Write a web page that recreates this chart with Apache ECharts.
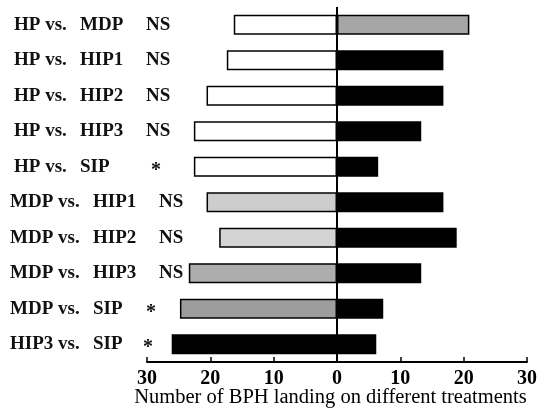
<!DOCTYPE html>
<html lang="en">
<head>
    <meta charset="UTF-8">
    <title>BPH landing</title>
    <script src="https://cdn.jsdelivr.net/npm/echarts@6/dist/echarts.min.js"></script>
    <style>
        html, body { margin: 0; padding: 0; background: #fff; }
        #main { width: 539px; height: 412px; }
    </style>
</head>
<body>
    <div id="main"></div>
<script>
// 比较组 (从上到下)
var pairA = ['HP vs.', 'HP vs.', 'HP vs.', 'HP vs.', 'HP vs.', 'MDP vs.', 'MDP vs.', 'MDP vs.', 'MDP vs.', 'HIP3 vs.'];
var pairB = ['MDP', 'HIP1', 'HIP2', 'HIP3', 'SIP', 'HIP1', 'HIP2', 'HIP3', 'SIP', 'SIP'];
var signif = ['NS', 'NS', 'NS', 'NS', '*', 'NS', 'NS', 'NS', '*', '*'];
// 左侧 (第一处理) 和右侧 (第二处理) 的着陆数
var leftValues = [16.3, 17.4, 20.6, 22.6, 22.6, 20.6, 18.6, 23.4, 24.8, 26.1];
var rightValues = [20.9, 16.8, 16.8, 13.3, 6.5, 16.8, 18.9, 13.3, 7.3, 6.2];
var xTicks = [-30, -20, -10, 0, 10, 20, 30];

var categories = pairA.map(function (a, i) { return a + ' ' + pairB[i]; });

// 样式: 填充颜色和标签列宽
var leftColors = ['#ffffff', '#ffffff', '#ffffff', '#ffffff', '#ffffff', '#cdcdcd', '#d4d4d4', '#adadad', '#9d9d9d', '#000000'];
var rightColors = ['#a6a6a6', '#000', '#000', '#000', '#000', '#000', '#000', '#000', '#000', '#000'];
var indentW = [4, 4, 4, 4, 4, 0, 0, 0, 0, 0];
var colAW = [66, 66, 66, 66, 66, 83, 83, 83, 83, 83];
var colBW = [66, 66, 66, 66, 71, 66, 66, 66, 53, 50];

var serif = '"Liberation Serif", "DejaVu Serif", serif';
var myChart = echarts.init(document.getElementById('main'));

var rich = {
    n: { fontFamily: serif, fontSize: 19, fontWeight: 'bold', color: '#111' },
    s: { fontFamily: serif, fontSize: 20, fontWeight: 'bold', color: '#111', padding: [8, 0, 0, 0] }
};
for (var i = 0; i < categories.length; i++) {
    rich['p' + i] = { fontFamily: serif, fontSize: 19, width: indentW[i] };
    rich['a' + i] = { fontFamily: serif, fontSize: 19, fontWeight: 'bold', color: '#111', width: colAW[i] };
    rich['b' + i] = { fontFamily: serif, fontSize: 19, fontWeight: 'bold', color: '#111', width: colBW[i] };
}

var option = {
    animation: false,
    grid: { left: 147, right: 12, top: 7, bottom: 50, outerBoundsMode: 'none' },
    xAxis: {
        type: 'value',
        min: xTicks[0],
        max: xTicks[xTicks.length - 1],
        interval: 10,
        axisLine: { show: true, lineStyle: { color: '#000', width: 2 } },
        axisTick: { show: true, inside: true, length: 5, lineStyle: { color: '#000', width: 1.5 } },
        splitLine: { show: false },
        axisLabel: {
            formatter: function (v) { return Math.abs(v); },
            color: '#000',
            fontFamily: serif,
            fontWeight: 'bold',
            fontSize: 20,
            margin: 7
        },
        name: 'Number of BPH landing on different treatments',
        nameLocation: 'middle',
        nameGap: 25,
        nameMoveOverlap: false,
        nameTextStyle: { color: '#000', fontFamily: serif, fontSize: 20.5, padding: [0, 13, 0, 0] }
    },
    yAxis: {
        type: 'category',
        inverse: true,
        data: categories,
        axisLine: { show: false },
        axisTick: { show: false },
        axisLabel: {
            align: 'left',
            margin: 137,
            formatter: function (v, i) {
                var s = signif[i] === '*' ? '{s|*}' : '{n|' + signif[i] + '}';
                return '{p' + i + '| }{a' + i + '|' + pairA[i] + '}{b' + i + '|' + pairB[i] + '}' + s;
            },
            rich: rich
        }
    },
    series: [
        {
            name: 'left',
            type: 'bar',
            stack: 'total',
            barWidth: 20,
            data: leftValues.map(function (v, i) {
                return { value: -v, itemStyle: { color: leftColors[i], borderColor: '#000', borderWidth: 1.5 } };
            }),
            markLine: {
                silent: true,
                symbol: 'none',
                label: { show: false },
                lineStyle: { color: '#000', width: 2, type: 'solid' },
                data: [{ xAxis: 0 }]
            }
        },
        {
            name: 'right',
            type: 'bar',
            stack: 'total',
            barWidth: 20,
            data: rightValues.map(function (v, i) {
                return { value: v, itemStyle: { color: rightColors[i], borderColor: '#000', borderWidth: 1.5 } };
            })
        }
    ]
};
myChart.setOption(option);
</script>
</body>
</html>
